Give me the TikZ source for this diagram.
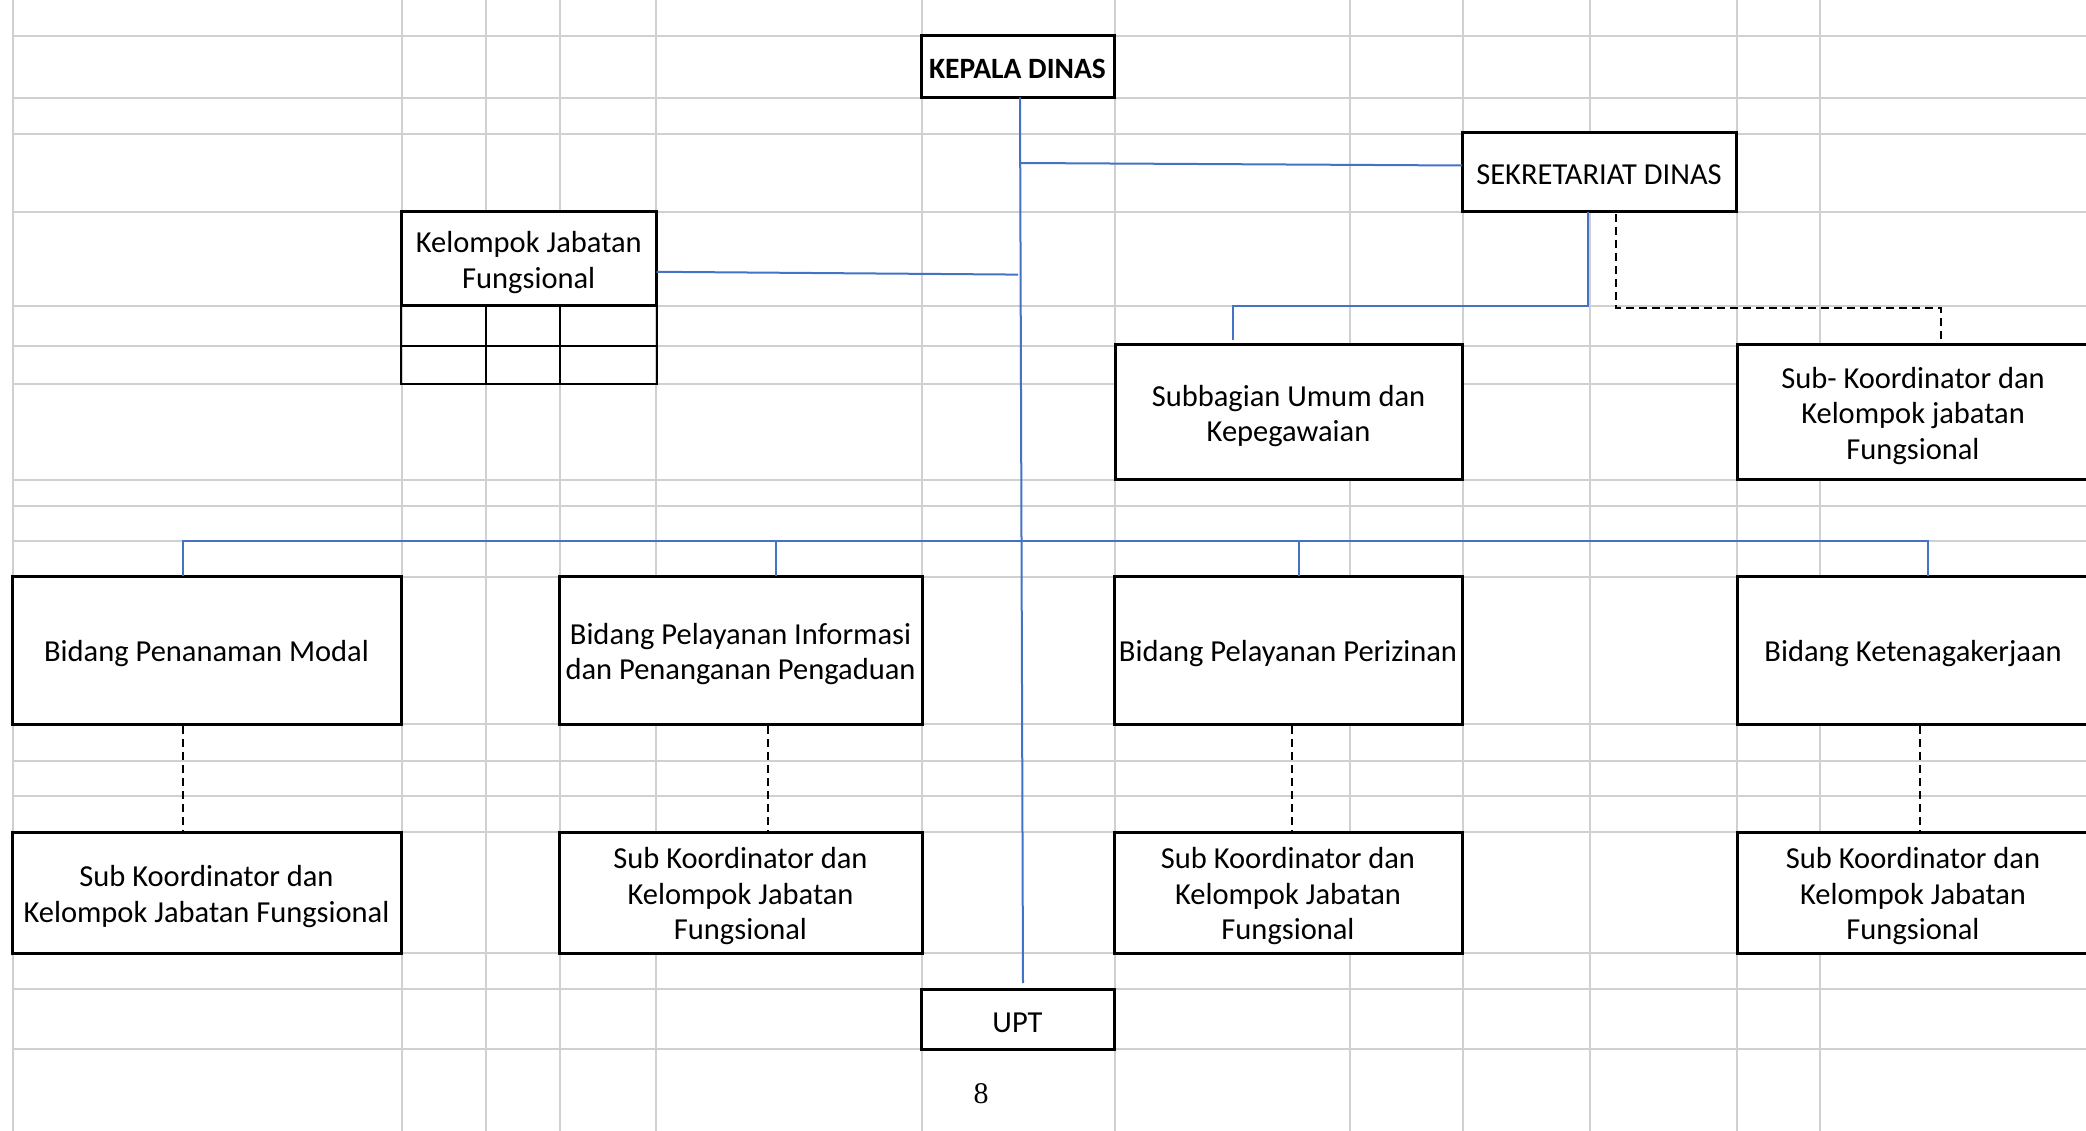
\documentclass[tikz,border=0pt]{standalone}
\usepackage{fontspec}
\setmainfont{Carlito}
\newfontfamily\numfont{Liberation Serif}
\definecolor{gridgray}{HTML}{D0D0D0}
\definecolor{orgblue}{HTML}{4472C4}
\newcommand\tu{\rule{0pt}{29pt}}
\newcommand\tuc{\rule{0pt}{24pt}}
\begin{document}
\begin{tikzpicture}[x=1pt,y=-1pt,
  box/.style={draw=black,line width=3pt,fill=white,inner sep=0pt,outer sep=0pt,align=center,font=\fontsize{30.5}{35.5}\selectfont},
  conn/.style={draw=orgblue,line width=2pt},
  dashconn/.style={draw=black,line width=2pt,dash pattern=on 8pt off 5pt},
  gridline/.style={draw=gridgray,line width=2pt}]
\useasboundingbox (0,0) rectangle (2086,1131);
\fill[white] (0,0) rectangle (2086,1131);
% spreadsheet grid
\foreach \x in {13,402,486,560,656,922,1115,1350,1463,1590,1737,1820}
  \draw[gridline] (\x,0) -- (\x,1131);
\foreach \y in {36,97.7,134,212,305.6,346,384,480,506,540.5,577,724,761,796,832,953,989,1049}
  \draw[gridline] (13,\y) -- (2086,\y);
% boxes
\node[box,font={\fontsize{29.5}{35.5}\selectfont\bfseries},minimum width=193,minimum height=61.5] (kd) at (1017.5,66.75) {\tuc KEPALA DINAS};
\node[box,minimum width=274,minimum height=79] (sek) at (1599,172.5) {\tuc SEKRETARIAT DINAS};
\node[box,minimum width=255.5,minimum height=93.6] (kjf) at (528.75,258.8) {\tu Kelompok Jabatan\\Fungsional};
\node[box,minimum width=347,minimum height=134] (sub) at (1288.5,412) {\tu Subbagian Umum dan\\Kepegawaian};
\node[box,minimum width=352,minimum height=134] (skt) at (1913,412) {\tu Sub- Koordinator dan\\Kelompok jabatan\\Fungsional};
\node[box,minimum width=389,minimum height=148] (b1) at (206.5,650) {\tu Bidang Penanaman Modal};
\node[box,minimum width=363,minimum height=148] (b2) at (740.5,650) {\tu Bidang Pelayanan Informasi\\dan Penanganan Pengaduan};
\node[box,minimum width=348,minimum height=148] (b3) at (1288,650) {\tu Bidang Pelayanan Perizinan};
\node[box,minimum width=352,minimum height=148] (b4) at (1913,650) {\tu Bidang Ketenagakerjaan};
\node[box,minimum width=389,minimum height=121] (s1) at (206.5,892.5) {\tu Sub Koordinator dan\\Kelompok Jabatan Fungsional};
\node[box,minimum width=363,minimum height=121] (s2) at (740.5,892.5) {\tu Sub Koordinator dan\\Kelompok Jabatan\\Fungsional};
\node[box,minimum width=348,minimum height=121] (s3) at (1288,892.5) {\tu Sub Koordinator dan\\Kelompok Jabatan\\Fungsional};
\node[box,minimum width=352,minimum height=121] (s4) at (1913,892.5) {\tu Sub Koordinator dan\\Kelompok Jabatan\\Fungsional};
\node[box,minimum width=193,minimum height=60] (upt) at (1017.5,1019) {\rule{0pt}{27pt}UPT};
% small table under Kelompok Jabatan Fungsional
\draw[line width=2pt] (401,305.6) rectangle (656.5,384);
\draw[line width=2pt] (401,346) -- (656.5,346);
\draw[line width=2pt] (486,305.6) -- (486,384);
\draw[line width=2pt] (560,305.6) -- (560,384);
% connectors
\coordinate (trunkend) at (1023,983);
\coordinate (jsek) at (1021,163);
\coordinate (jkjf) at (1018,274.6);
\coordinate (busL) at (183,540.5);
\coordinate (busR) at (1928,540.5);
\draw[conn] ([xshift=2.5]kd.south) -- (trunkend);
\draw[conn] (jsek) -- ([yshift=7]sek.west);
\draw[conn] ([yshift=-13]kjf.east) -- (jkjf);
\draw[conn] ([xshift=-10.6]sek.south) -- ++(0,93.6) -| ([xshift=-56,yshift=4.5]sub.north);
\draw[dashconn] ([xshift=17.4,yshift=-2]sek.south) -- ++(0,94) -| ([xshift=28,yshift=5.5]skt.north);
\draw[conn] ([xshift=-23.5]b1.north) -- (busL) -- (busR) -- ([xshift=15]b4.north);
\draw[conn] ([xshift=35.5]b2.north) -- ([xshift=35.5]b2.north |- busL);
\draw[conn] ([xshift=11]b3.north) -- ([xshift=11]b3.north |- busL);
\draw[dashconn] ([xshift=-23.5,yshift=-2]b1.south) -- ([xshift=-23.5]s1.north);
\draw[dashconn] ([xshift=27.5,yshift=-2]b2.south) -- ([xshift=27.5]s2.north);
\draw[dashconn] ([xshift=4,yshift=-2]b3.south) -- ([xshift=4]s3.north);
\draw[dashconn] ([xshift=7,yshift=-2]b4.south) -- ([xshift=7]s4.north);
% page number
\node[font={\numfont\fontsize{30}{36}\selectfont},inner sep=0pt] (pg) at (981,1094) {8};
\end{tikzpicture}
\end{document}
